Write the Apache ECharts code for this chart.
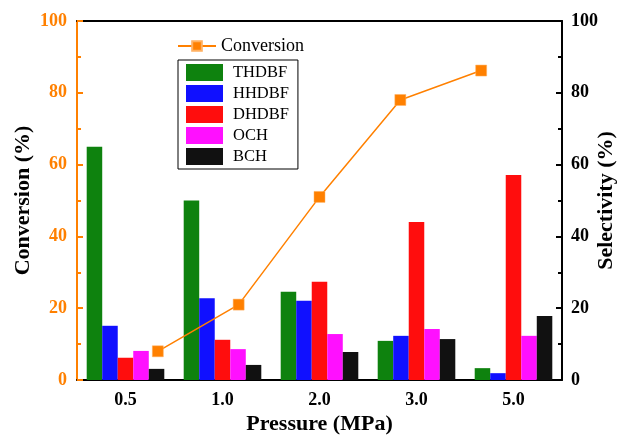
<!DOCTYPE html>
<html>
<head>
<meta charset="utf-8">
<script src="https://cdn.jsdelivr.net/npm/echarts@6/dist/echarts.min.js"></script>
<style>
html, body { margin: 0; padding: 0; background: #fff; }
#main { width: 625px; height: 436px; }
</style>
</head>
<body>
<div id="main"></div>
<script>
var pressures = ['0.5', '1.0', '2.0', '3.0', '5.0'];
var thdbf = [65, 50, 24.6, 10.9, 3.3];
var hhdbf = [15.1, 22.8, 22.1, 12.3, 1.9];
var dhdbf = [6.2, 11.2, 27.4, 44, 57.1];
var och = [8.1, 8.6, 12.8, 14.2, 12.3];
var bch = [3.1, 4.2, 7.8, 11.4, 17.8];
var conversion = [8, 21, 51, 78, 86.2];

var orange = '#FF8000';
var serif = 'Liberation Serif';

var chart = echarts.init(document.getElementById('main'));

// line points sit on their own hidden axis, spaced 1..5 on 0..6
var convPoints = conversion.map(function (v, i) { return [i + 1, v]; });

function barSeries(name, data, color) {
    return {
        name: name,
        type: 'bar',
        xAxisIndex: 0,
        yAxisIndex: 1,
        data: data,
        barGap: '0%',
        barCategoryGap: '20%',
        itemStyle: { color: color }
    };
}

var option = {
    animation: false,
    grid: { left: 77, right: 63, top: 21, bottom: 56, outerBoundsMode: 'none', containLabel: false },
    legend: [
        {
            data: ['Conversion'],
            left: 172,
            top: 32,
            itemWidth: 38,
            itemHeight: 12,
            textStyle: { fontFamily: serif, fontSize: 18, color: '#000', padding: [0, 0, 0, 0] }
        },
        {
            data: ['THDBF', 'HHDBF', 'DHDBF', 'OCH', 'BCH'],
            orient: 'vertical',
            left: 178,
            top: 60,
            icon: 'rect',
            borderColor: '#000',
            borderWidth: 1,
            borderRadius: 0,
            padding: [4, 9, 4, 8],
            itemWidth: 37,
            itemHeight: 17,
            itemGap: 4,
            textStyle: { fontFamily: serif, fontSize: 16.5, color: '#000', padding: [0, 0, 0, 5] }
        }
    ],
    xAxis: [
        {
            type: 'category',
            data: pressures,
            position: 'bottom',
            axisLine: { lineStyle: { color: '#000', width: 2 } },
            axisTick: { alignWithLabel: true, inside: true, length: 6, lineStyle: { color: '#000', width: 2 } },
            axisLabel: { fontFamily: serif, fontSize: 18, fontWeight: 'bold', color: '#000', margin: 11 },
            name: 'Pressure (MPa)',
            nameLocation: 'middle',
            nameGap: 33,
            nameMoveOverlap: false,
            nameTextStyle: { fontFamily: serif, fontSize: 22, fontWeight: 'bold', color: '#000' }
        },
        {
            type: 'category',
            data: pressures,
            position: 'bottom',
            axisLine: { show: false },
            axisTick: { inside: true, length: 4, lineStyle: { color: '#000', width: 2 } },
            axisLabel: { show: false }
        },
        {
            type: 'value',
            min: 0,
            max: 6,
            position: 'top',
            axisLine: { show: true, lineStyle: { color: '#000', width: 2 } },
            axisTick: { show: false },
            axisLabel: { show: false },
            splitLine: { show: false }
        }
    ],
    yAxis: [
        {
            type: 'value',
            min: 0,
            max: 100,
            interval: 20,
            position: 'left',
            axisLine: { show: true, lineStyle: { color: orange, width: 2 } },
            axisTick: { show: true, inside: true, length: 6, lineStyle: { color: orange, width: 2 } },
            minorTick: { show: true, splitNumber: 2, length: 4, lineStyle: { color: orange, width: 2 } },
            axisLabel: { fontFamily: serif, fontSize: 18, fontWeight: 'bold', color: orange, margin: 10 },
            splitLine: { show: false },
            name: 'Conversion (%)',
            nameLocation: 'middle',
            nameGap: 43,
            nameMoveOverlap: false,
            nameTextStyle: { fontFamily: serif, fontSize: 22, fontWeight: 'bold', color: '#000' }
        },
        {
            type: 'value',
            min: 0,
            max: 100,
            interval: 20,
            position: 'right',
            axisLine: { show: true, lineStyle: { color: '#000', width: 2 } },
            axisTick: { show: true, inside: true, length: 6, lineStyle: { color: '#000', width: 2 } },
            minorTick: { show: true, splitNumber: 2, length: 4, lineStyle: { color: '#000', width: 2 } },
            axisLabel: { fontFamily: serif, fontSize: 18, fontWeight: 'bold', color: '#000', margin: 9 },
            splitLine: { show: false },
            name: 'Selectivity (%)',
            nameLocation: 'middle',
            nameGap: 33,
            nameRotate: 90,
            nameMoveOverlap: false,
            nameTextStyle: { fontFamily: serif, fontSize: 22, fontWeight: 'bold', color: '#000' }
        }
    ],
    series: [
        barSeries('THDBF', thdbf, '#0E820E'),
        barSeries('HHDBF', hhdbf, '#1010FF'),
        barSeries('DHDBF', dhdbf, '#FF0D0D'),
        barSeries('OCH', och, '#FF10FF'),
        barSeries('BCH', bch, '#111111'),
        {
            name: 'Conversion',
            type: 'line',
            xAxisIndex: 2,
            yAxisIndex: 0,
            data: convPoints,
            symbol: 'rect',
            symbolSize: 11,
            lineStyle: { color: orange, width: 1.5 },
            itemStyle: { color: orange, borderColor: '#FFB060', borderWidth: 0.5 },
            z: 5
        }
    ]
};
chart.setOption(option);
</script>
</body>
</html>
